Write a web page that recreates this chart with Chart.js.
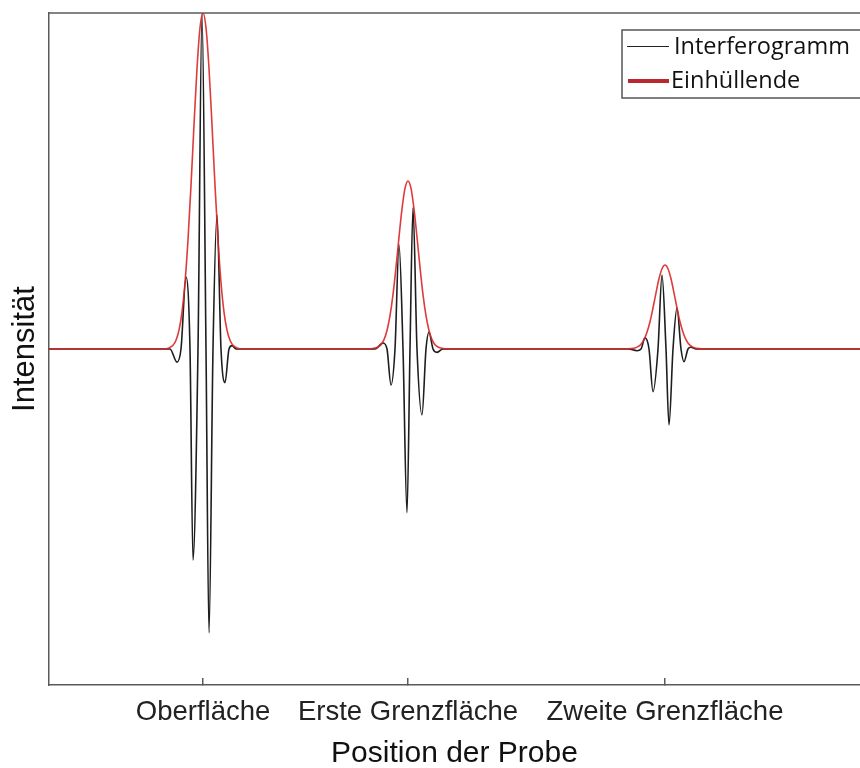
<!DOCTYPE html>
<html>
<head>
<meta charset="utf-8">
<script src="https://cdn.jsdelivr.net/npm/chart.js@4.4.0/dist/chart.umd.min.js"></script>
<style>
    body {
        margin: 0;
        background: #fff;
    }
    #wrap {
        position: relative;
        width: 860px;
        height: 768px;
    }
</style>
<title>Interferogramm</title>
</head>
<body>
<div id="wrap"><canvas id="myChart" width="860" height="768"></canvas></div>
<script>
    // position along the probe (arbitrary units) and intensity
    var interfX = [0,
        121, 128, 132, 137, 141, 144, 149, 153, 157, 160, 164, 168, 172, 176, 180, 183, 187,
        326, 334, 338, 342, 346, 350, 354, 358, 361, 364, 368, 373, 377, 380, 384, 388, 394,
        579, 588, 592, 596, 600, 604, 609, 613, 617, 620, 624, 628, 632, 635, 639, 642, 647,
        811];
    var interfY = [0,
        0, -0.039, 0, 0.214, 0, -0.628, 0, 1.0, 0, -0.845, 0, 0.399, 0, -0.10, 0, 0.01, 0,
        0, 0.018, 0, -0.107, 0, 0.31, 0, -0.487, 0, 0.42, 0, -0.196, 0, 0.05, 0, -0.01, 0,
        0, -0.005, 0, 0.033, 0, -0.127, 0, 0.22, 0, -0.226, 0, 0.122, 0, -0.038, 0, 0.005, 0,
        0];

    var envX = [0,
        114, 120, 124, 127, 130, 133, 136, 139, 142, 145, 148, 151, 154, 157, 160, 163, 166, 169, 172, 175, 178, 181, 184, 188, 194,
        319, 325, 329, 332, 335, 338, 341, 344, 347, 350, 353, 356, 359, 362, 365, 368, 371, 374, 377, 380, 383, 386, 389, 393, 399,
        576, 582, 586, 589, 592, 595, 598, 601, 604, 607, 610, 613, 616, 619, 622, 625, 628, 631, 634, 637, 640, 643, 646, 650, 656,
        811];
    var envY = [0,
        0, 0.003, 0.011, 0.026, 0.056, 0.110, 0.198, 0.325, 0.487, 0.667, 0.835, 0.956, 1.0, 0.956, 0.835, 0.667, 0.487, 0.325, 0.198, 0.110, 0.056, 0.026, 0.011, 0.003, 0,
        0, 0.002, 0.006, 0.013, 0.028, 0.055, 0.099, 0.162, 0.243, 0.333, 0.417, 0.478, 0.5, 0.478, 0.417, 0.333, 0.243, 0.162, 0.099, 0.055, 0.028, 0.013, 0.006, 0.002, 0,
        0, 0.001, 0.003, 0.007, 0.014, 0.028, 0.05, 0.081, 0.122, 0.167, 0.209, 0.239, 0.25, 0.239, 0.209, 0.167, 0.122, 0.081, 0.05, 0.028, 0.014, 0.007, 0.003, 0.001, 0,
        0];

    var tickPos = [154, 359, 616];
    var tickLabels = ['Oberfläche', 'Erste Grenzfläche', 'Zweite Grenzfläche'];

    function toPoints(xs, ys) {
        return xs.map(function (x, i) { return { x: x, y: ys[i] }; });
    }

    // top frame line + boxed legend in the upper right corner
    var framePlugin = {
        id: 'frame',
        afterDraw: function (chart) {
            var ctx = chart.ctx;
            var a = chart.chartArea;
            var ds = chart.data.datasets;
            ctx.save();
            ctx.strokeStyle = '#5a5a5a';
            ctx.lineWidth = 1.5;
            ctx.beginPath();
            ctx.moveTo(a.left, a.top);
            ctx.lineTo(a.right, a.top);
            ctx.stroke();

            ctx.fillStyle = '#fff';
            ctx.fillRect(622, 30, 260, 68);
            ctx.strokeStyle = '#555';
            ctx.lineWidth = 1.5;
            ctx.strokeRect(622, 30, 260, 68);

            ctx.strokeStyle = '#222';
            ctx.lineWidth = 1;
            ctx.beginPath();
            ctx.moveTo(627, 46.5);
            ctx.lineTo(669, 46.5);
            ctx.stroke();

            ctx.strokeStyle = '#b8282e';
            ctx.lineWidth = 4;
            ctx.beginPath();
            ctx.moveTo(628, 81);
            ctx.lineTo(669, 81);
            ctx.stroke();

            ctx.fillStyle = '#111';
            ctx.font = '23.5px "Open Sans", "Noto Sans", sans-serif';
            ctx.textBaseline = 'alphabetic';
            ctx.fillText(ds[0].label, 674, 54);
            ctx.fillText(ds[1].label, 671, 88);
            ctx.restore();
        }
    };

    var ctx = document.getElementById('myChart').getContext('2d');
    var myChart = new Chart(ctx, {
        type: 'line',
        data: {
            datasets: [{
                label: 'Interferogramm',
                data: toPoints(interfX, interfY),
                borderColor: '#1e1e1e',
                borderWidth: 1.6,
                pointRadius: 0,
                fill: false,
                cubicInterpolationMode: 'monotone',
                order: 1
            }, {
                label: 'Einhüllende',
                data: toPoints(envX, envY),
                borderColor: 'rgba(218, 38, 38, 0.9)',
                borderWidth: 1.6,
                pointRadius: 0,
                fill: false,
                cubicInterpolationMode: 'monotone',
                order: 0
            }]
        },
        options: {
            responsive: false,
            animation: false,
            devicePixelRatio: 1,
            layout: { padding: { top: 13, right: 0, left: 0, bottom: 0 } },
            plugins: {
                legend: { display: false },
                tooltip: { enabled: false }
            },
            scales: {
                x: {
                    type: 'linear',
                    min: 0,
                    max: 811,
                    afterBuildTicks: function (scale) {
                        scale.ticks = tickPos.map(function (v) { return { value: v }; });
                    },
                    afterFit: function (scale) { scale.height = 83; },
                    ticks: {
                        autoSkip: false,
                        maxRotation: 0,
                        padding: 18,
                        color: '#222',
                        font: { family: '"Liberation Sans", Arial, Helvetica, sans-serif', size: 27.5 },
                        callback: function (v, i) { return tickLabels[i]; }
                    },
                    grid: {
                        drawOnChartArea: false,
                        drawTicks: true,
                        tickLength: -7,
                        color: '#5a5a5a',
                        lineWidth: 1.5
                    },
                    border: { display: true, color: '#5a5a5a', width: 1.5 },
                    title: {
                        display: true,
                        text: 'Position der Probe',
                        color: '#111',
                        padding: { top: 0, bottom: -1 },
                        font: { family: '"Liberation Sans", Arial, Helvetica, sans-serif', size: 30, lineHeight: 1 }
                    }
                },
                y: {
                    min: -1,
                    max: 1,
                    afterFit: function (scale) { scale.width = 49; },
                    ticks: { display: false },
                    grid: { display: false },
                    border: { display: true, color: '#5a5a5a', width: 1.5 },
                    title: {
                        display: true,
                        text: 'Intensität',
                        color: '#111',
                        padding: { top: 10, bottom: 0 },
                        font: { family: '"Liberation Sans", Arial, Helvetica, sans-serif', size: 31, lineHeight: 1 }
                    }
                }
            }
        },
        plugins: [framePlugin]
    });
</script>
</body>
</html>
